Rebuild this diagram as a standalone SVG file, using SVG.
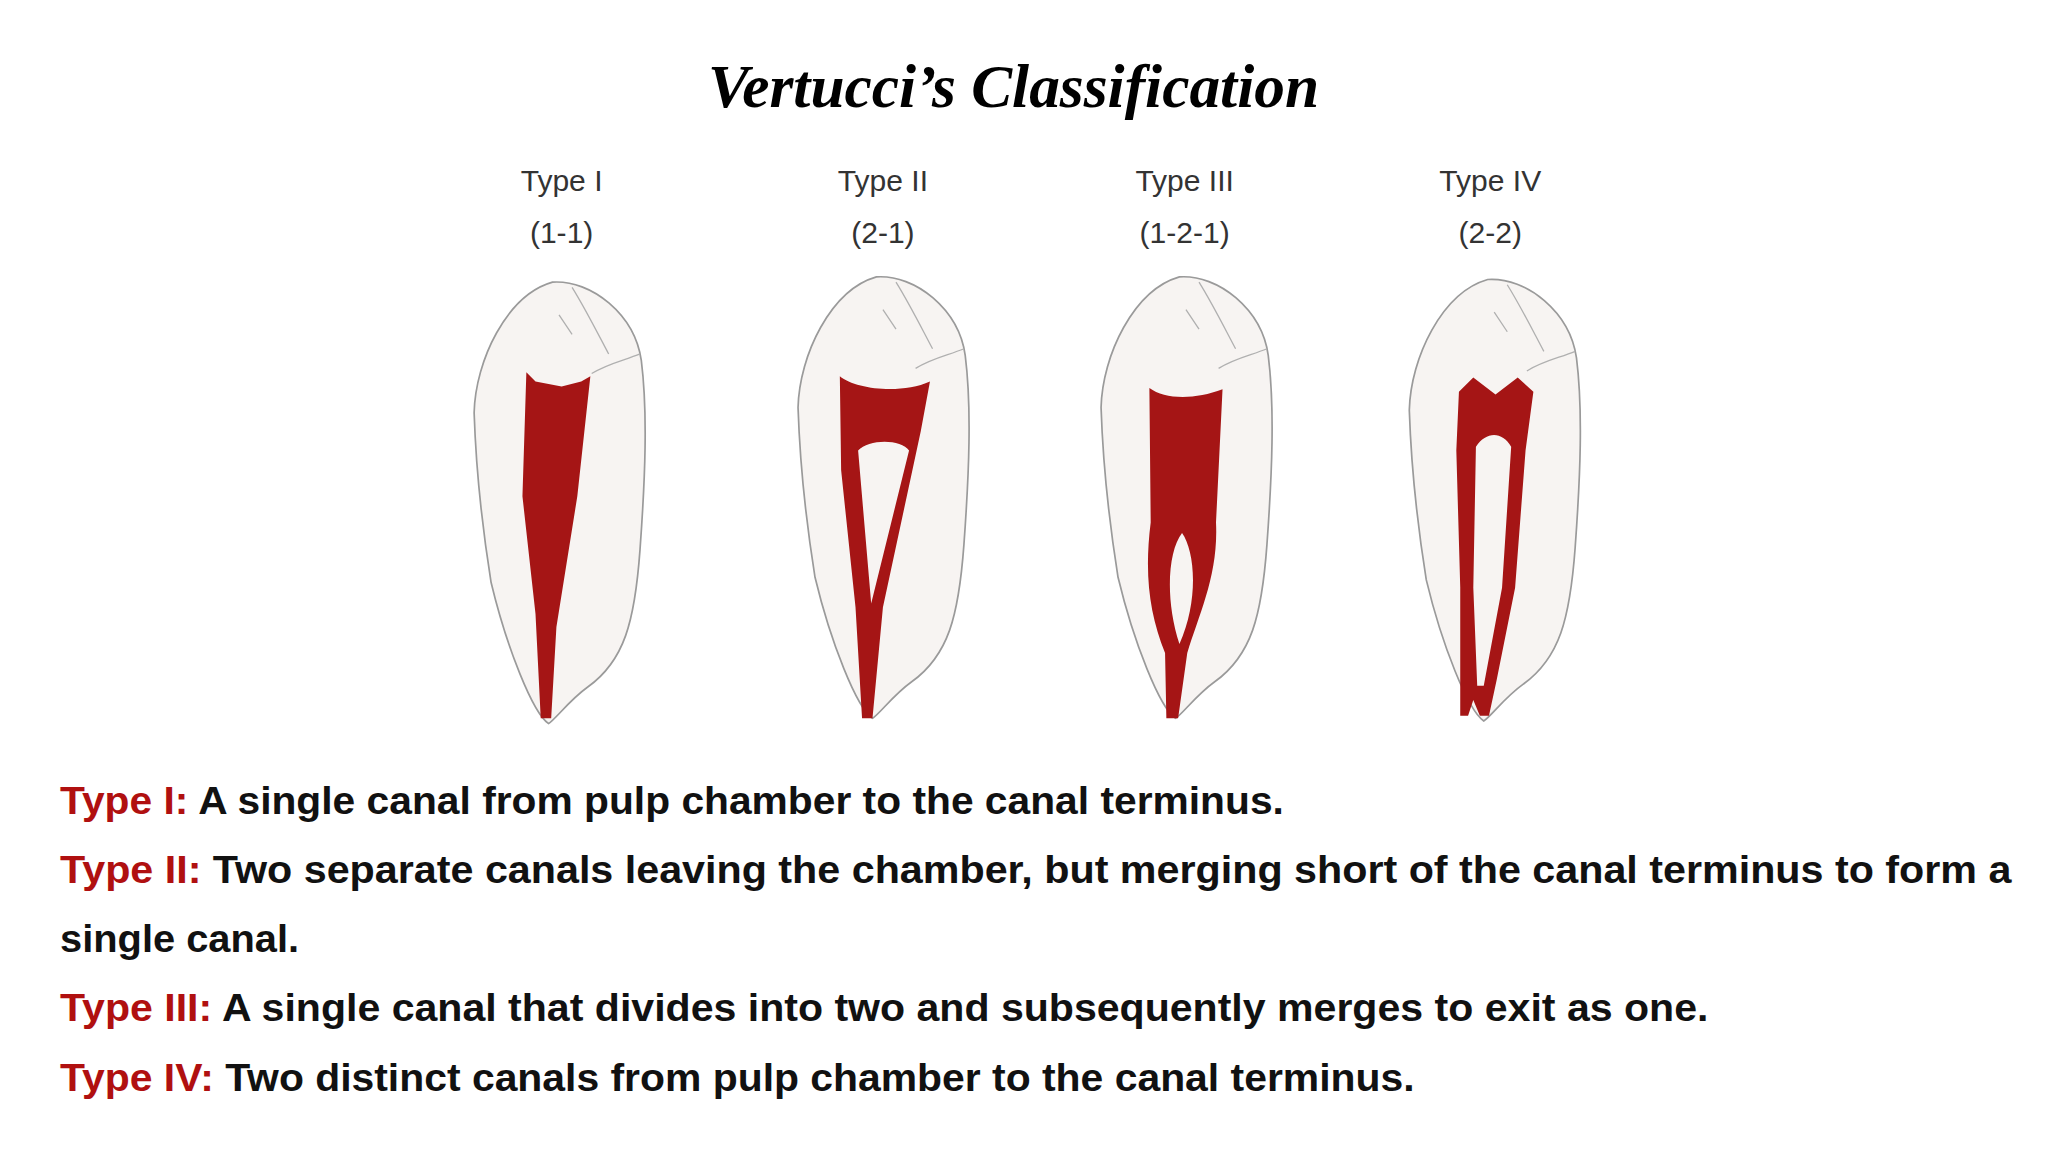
<svg xmlns="http://www.w3.org/2000/svg" width="2048" height="1152" viewBox="0 0 2048 1152">
<style>
.title{font-family:"Liberation Serif",serif;font-weight:bold;font-style:italic;font-size:47px;fill:#000}
.lbl{font-family:"Liberation Sans",Arial,sans-serif;font-size:23px;fill:#333;text-anchor:middle}
.tooth{fill:#f7f4f2;stroke:#9a9a9a;stroke-width:1.3}
.groove{fill:none;stroke:#b0b0b0;stroke-width:1}
.canal{fill:#a51515;fill-rule:evenodd}
.desc{font-family:"Liberation Sans",Arial,sans-serif;font-weight:bold;font-size:29px;fill:#111}
.red{fill:#b01010}
</style>
<defs>
<path id="toothShape" d="M -5,0 C 25,-2 58,25 63,60 C 68,100 66,150 62,205 C 58,260 50,290 22,310 C 8,320 -3,335 -8,338 C -20,330 -40,280 -52,230 C -60,180 -64,130 -65,100 C -64,60 -40,10 -5,0 Z"/>
<path id="grooves" d="M 10,4 C 20,20 30,40 38,55 M 62,55 C 50,60 38,62 25,70 M 0,25 L 10,40"/>
</defs>
<rect width="2048" height="1152" fill="#fff"/>
<g transform="scale(1.30612)">
<text class="title" x="776" y="82" text-anchor="middle">Vertucci’s Classification</text>
<g id="type1">
<text class="lbl" x="430" y="146">Type I</text><text class="lbl" x="430" y="186">(1-1)</text>
<use href="#toothShape" class="tooth" transform="translate(428,216)"/>
<use href="#grooves" class="groove" transform="translate(428,216)"/>
<path class="canal" d="M 403,285 L 410,292 L 430,296 L 445,292 L 452,288 L 442,380 L 426,480 L 422,550 L 414,550 L 410,470 L 400,380 Z"/>
</g>
<g id="type2">
<text class="lbl" x="676" y="146">Type II</text><text class="lbl" x="676" y="186">(2-1)</text>
<use href="#toothShape" class="tooth" transform="translate(676,212)"/>
<use href="#grooves" class="groove" transform="translate(676,212)"/>
<path class="canal" d="M 643,288 C 655,298 690,302 712,292 L 705,330 L 676,465 L 668,550 L 660,550 L 655,465 L 644,360 Z M 657,345 C 665,336 690,336 696,345 L 667,462 Z"/>
</g>
<g id="type3">
<text class="lbl" x="907" y="146">Type III</text><text class="lbl" x="907" y="186">(1-2-1)</text>
<use href="#toothShape" class="tooth" transform="translate(908,212)"/>
<use href="#grooves" class="groove" transform="translate(908,212)"/>
<path class="canal" d="M 880,297 C 892,306 915,306 936,298 L 931,400 C 933,440 918,470 909,500 L 902,550 L 893,550 L 892,500 C 880,470 876,440 881,400 Z M 905,408 C 915,422 918,460 903,493 C 892,460 894,422 905,408 Z"/>
</g>
<g id="type4">
<text class="lbl" x="1141" y="146">Type IV</text><text class="lbl" x="1141" y="186">(2-2)</text>
<use href="#toothShape" class="tooth" transform="translate(1144,214)"/>
<use href="#grooves" class="groove" transform="translate(1144,214)"/>
<path class="canal" d="M 1117,300 L 1128,289 L 1145,302 L 1162,289 L 1174,300 L 1168,345 L 1160,450 L 1146,520 L 1140,548 L 1133,548 L 1128,536 L 1124,548 L 1118,548 L 1118,450 L 1115,345 Z M 1130,342 C 1138,330 1150,330 1157,342 L 1150,450 L 1136,525 L 1131,525 L 1128,450 Z"/>
</g>
<g id="text">
<text class="desc" x="46" y="623" textLength="937" lengthAdjust="spacingAndGlyphs"><tspan class="red">Type I:</tspan> A single canal from pulp chamber to the canal terminus.</text>
<text class="desc" x="46" y="676" textLength="1494" lengthAdjust="spacingAndGlyphs"><tspan class="red">Type II:</tspan> Two separate canals leaving the chamber, but merging short of the canal terminus to form a</text>
<text class="desc" x="46" y="729" textLength="183" lengthAdjust="spacingAndGlyphs">single canal.</text>
<text class="desc" x="46" y="782" textLength="1262" lengthAdjust="spacingAndGlyphs"><tspan class="red">Type III:</tspan> A single canal that divides into two and subsequently merges to exit as one.</text>
<text class="desc" x="46" y="835" textLength="1037" lengthAdjust="spacingAndGlyphs"><tspan class="red">Type IV:</tspan> Two distinct canals from pulp chamber to the canal terminus.</text>
</g>
</g>
</svg>
